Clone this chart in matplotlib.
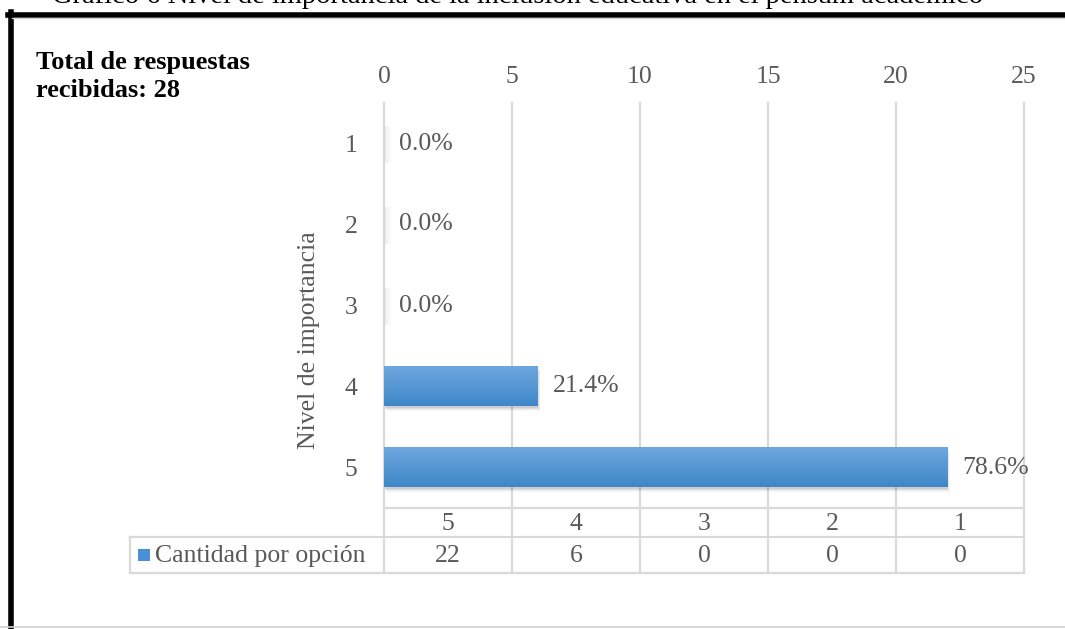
import numpy as np
import matplotlib
matplotlib.use("Agg")
import matplotlib.pyplot as plt
from matplotlib.patches import Rectangle
from matplotlib.lines import Line2D

# Datos
niveles = ["1", "2", "3", "4", "5"]
cantidades = [0, 0, 0, 6, 22]
total_respuestas = 28
columnas_tabla = ["5", "4", "3", "2", "1"]
valores_tabla = [22, 6, 0, 0, 0]
serie = "Cantidad por opción"
titulo = "Gráfico 6 Nivel de importancia de la inclusión educativa en el pensum académico"
xticks = [0, 5, 10, 15, 20, 25]

plt.rcParams["font.family"] = ["Liberation Serif", "DejaVu Serif"]
GRIS_TXT = "#595959"
GRIS_LIN = "#d9d9d9"
FS = 18.5

W, H = 1065, 629
fig = plt.figure(figsize=(W / 100, H / 100), dpi=100)

def fx(px):
    return px / W

def fy(py):
    return 1 - py / H

# Eje principal
left, right, top, bottom = 384, 1024, 103, 508
ax = fig.add_axes([fx(left), fy(bottom), fx(right - left), fy(top) - fy(bottom)])
ax.patch.set_visible(False)
ax.set_xlim(0, 25)
ax.set_ylim(len(niveles) - 0.5, -0.5)
for s in ax.spines.values():
    s.set_visible(False)
ax.xaxis.tick_top()
ax.set_xticks(xticks)
ax.set_xticklabels([str(t) for t in xticks], fontsize=FS, color=GRIS_TXT)
ax.tick_params(axis="x", length=0, pad=11)
ax.set_yticks(range(len(niveles)))
ax.set_yticklabels(niveles, fontsize=FS, color=GRIS_TXT)
ax.tick_params(axis="y", length=0, pad=19)

# Título del eje vertical
fig.text(fx(309), fy(340), "Nivel de importancia", rotation=90, ha="center", va="center",
         fontsize=FS, color=GRIS_TXT)

# Líneas de cuadrícula prolongadas hasta la tabla
y_tab_top, y_tab_mid, y_tab_bot = 508, 537, 573
for t in xticks:
    xp = left + (right - left) * t / 25
    fig.add_artist(Line2D([fx(xp), fx(xp)], [fy(top), fy(y_tab_bot)],
                          color=GRIS_LIN, lw=1.6, zorder=0))

# Barras con degradado y sombra
grad = np.linspace(0, 1, 64).reshape(-1, 1)
cmap = matplotlib.colors.LinearSegmentedColormap.from_list("azul", ["#6da7de", "#3f87c9"])
alto = 0.49
for i, v in enumerate(cantidades):
    y0 = i - alto / 2
    if v > 0:
        for k, a in enumerate([0.10, 0.08, 0.06, 0.04]):
            ax.add_patch(Rectangle((0.02 + 0.03 * k, y0 + 0.02 + 0.012 * k), v, alto,
                                   facecolor="#404040", edgecolor="none", alpha=a, zorder=1))
        ax.imshow(grad, cmap=cmap, aspect="auto", extent=(0, v, y0 + alto, y0),
                  zorder=2, interpolation="bilinear")
    else:
        for k, a in enumerate([0.05, 0.04, 0.03]):
            ax.add_patch(Rectangle((0.03 * k, y0 + 0.03), 0.12 + 0.04 * k, alto - 0.04,
                                   facecolor="#808080", edgecolor="none", alpha=a, zorder=1))
    pct = 100 * v / total_respuestas
    ax.text(v + 0.58, i, f"{pct:.1f}%", va="center", ha="left", fontsize=FS, color=GRIS_TXT, zorder=3)
ax.set_xlim(0, 25)
ax.set_ylim(len(niveles) - 0.5, -0.5)

# Tabla de datos
def hline(x0, x1, y):
    fig.add_artist(Line2D([fx(x0), fx(x1)], [fy(y), fy(y)], color=GRIS_LIN, lw=1.6))

hline(left, right, y_tab_top)
hline(130, right, y_tab_mid)
hline(130, right, y_tab_bot)
fig.add_artist(Line2D([fx(130), fx(130)], [fy(y_tab_mid), fy(y_tab_bot)], color=GRIS_LIN, lw=1.6))
ancho = (right - left) / len(columnas_tabla)
for j, (c, val) in enumerate(zip(columnas_tabla, valores_tabla)):
    xc = left + ancho * (j + 0.5)
    fig.text(fx(xc), fy((y_tab_top + y_tab_mid) / 2 + 1), c, ha="center", va="center",
             fontsize=FS, color=GRIS_TXT)
    fig.text(fx(xc), fy((y_tab_mid + y_tab_bot) / 2 + 1), str(val), ha="center", va="center",
             fontsize=FS, color=GRIS_TXT)
fig.add_artist(Rectangle((fx(138), fy(561)), fx(12), fy(549) - fy(561),
                         facecolor="#4a90d4", edgecolor="none"))
fig.text(fx(155), fy((y_tab_mid + y_tab_bot) / 2 + 1), serie, ha="left", va="center",
         fontsize=FS, color=GRIS_TXT)

# Texto de total
fig.text(fx(36), fy(51), "Total de respuestas\nrecibidas: " + str(total_respuestas),
         ha="left", va="top", fontsize=19, fontweight="bold", color="black", linespacing=1.3)

# Marco y título
fig.add_artist(Line2D([fx(10.5), fx(10.5)], [fy(12), fy(H)], color="black", lw=4))
fig.add_artist(Line2D([fx(8), fx(W)], [fy(14.5), fy(14.5)], color="black", lw=4))
fig.add_artist(Line2D([fx(12), fx(W)], [fy(18), fy(18)], color="#cfcfcf", lw=1))
fig.add_artist(Line2D([0, 1], [fy(627), fy(627)], color="#d0d0d0", lw=1.2))
fig.text(fx(518), fy(3), titulo, ha="center", va="baseline", fontsize=20.5, color="black")

fig.savefig("out.png", dpi=100, facecolor="white")
